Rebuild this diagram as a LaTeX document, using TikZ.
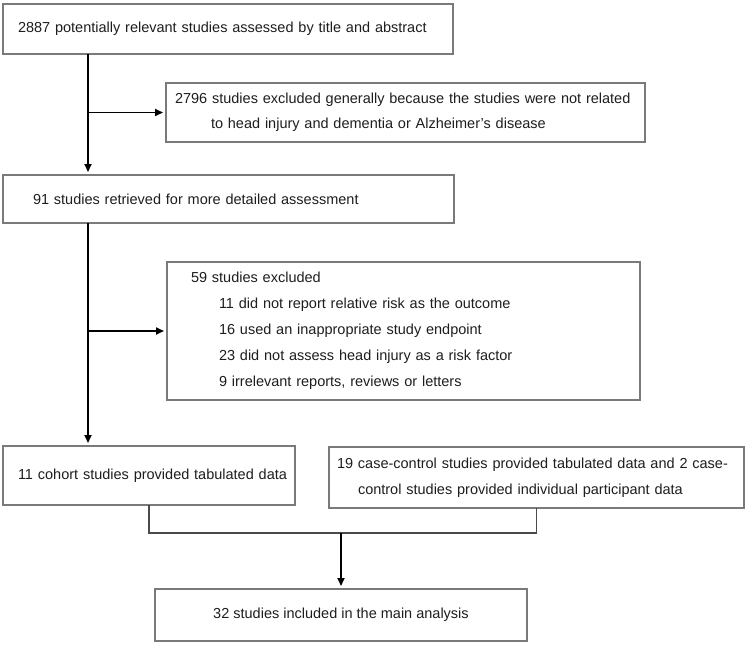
\documentclass[tikz,border=0pt]{standalone}
\usepackage{fontspec}
\setmainfont{Liberation Sans}
\usetikzlibrary{arrows.meta}
\definecolor{boxgray}{HTML}{7A7A7A}
\definecolor{textgray}{HTML}{1E1E1E}
\definecolor{linkgray}{HTML}{4A4A4A}
\begin{document}
\begin{tikzpicture}[x=1pt,y=-1pt,
  box/.style={draw=boxgray, line width=1.3pt, fill=white, inner ysep=0pt, outer sep=0pt,
    anchor=north west, text=textgray, align=left,
    font=\fontsize{14.5}{26}\selectfont},
  arr/.style={line width=1.7pt, black, shorten >=3pt, -{Triangle[length=8pt,width=7pt]}},
  link/.style={draw=linkgray, line width=1.4pt}]
\useasboundingbox[fill=white] (0,0) rectangle (751,646);

\node[box, text width=420pt, inner xsep=15pt, minimum height=50pt] (b1) at (3,4)
  {\mbox{2887 potentially relevant studies assessed by title and abstract}};

\node[box, text width=461pt, inner xsep=9pt, minimum height=59pt,
  font=\fontsize{14.5}{25}\selectfont] (ex1) at (166,83)
  {\mbox{2796 studies excluded generally because the studies were not related}\\
   \hspace*{36pt}\mbox{to head injury and dementia or Alzheimer's disease}};

\node[box, text width=391pt, inner xsep=30pt, minimum height=48pt] (b2) at (3,175)
  {\mbox{91 studies retrieved for more detailed assessment}};

\node[box, text width=425pt, inner xsep=24pt, minimum height=138pt] (ex2) at (167,262)
  {\mbox{59 studies excluded}\\
   \hspace*{28pt}\mbox{11 did not report relative risk as the outcome}\\
   \hspace*{28pt}\mbox{16 used an inappropriate study endpoint}\\
   \hspace*{28pt}\mbox{23 did not assess head injury as a risk factor}\\
   \hspace*{28pt}\mbox{9 irrelevant reports, reviews or letters}};

\node[box, text width=262pt, inner xsep=15pt, minimum height=59pt] (coh) at (3,446)
  {\mbox{11 cohort studies provided tabulated data}};

\node[box, text width=399pt, inner xsep=8pt, minimum height=61pt] (cc) at (329,447)
  {\mbox{19 case-control studies provided tabulated data and 2 case-}\\
   \hspace*{21pt}\mbox{control studies provided individual participant data}};

\node[box, align=center, inner xsep=0pt, minimum width=372pt, minimum height=52pt] (fin) at (155,589)
  {32 studies included in the main analysis};

\coordinate (t1) at ([xshift=85pt]b1.south west);
\coordinate (t2) at ([xshift=85pt]b2.south west);
\draw[arr] (t1) -- ([xshift=85pt]b2.north west);
\draw[arr] (ex1.west -| t1) -- (ex1.west);
\draw[arr] (t2) -- ([xshift=85pt]coh.north west);
\draw[arr] (ex2.west -| t2) -- (ex2.west);

\coordinate (m) at (fin.north |- 0,533);
\draw[link] (coh.south) |- (m) -| (cc.south);
\draw[arr] (m) -- (fin.north);
\end{tikzpicture}
\end{document}
